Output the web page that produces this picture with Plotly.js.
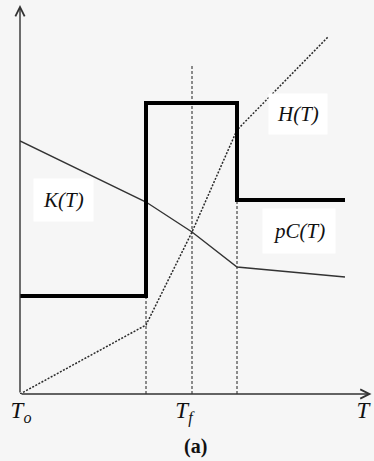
<!DOCTYPE html>
<html>
<head>
<meta charset="utf-8">
<script src="https://cdn.plot.ly/plotly-3.0.1.min.js"></script>
<style>html,body{margin:0;padding:0;background:#f6f6f6;}#chart{width:374px;height:461px;}</style>
</head>
<body>
<div id="chart"></div>
<script>
// Characteristic temperatures (arbitrary units)
var T_o = 0, T_1 = 12.6, T_f = 17.2, T_2 = 21.7, T_end = 32.5, T_max = 35.2;
// pC(T): heat capacity step curve
var pcT = [T_o, T_1, T_1, T_2, T_2, T_end];
var pcV = [9.8, 9.8, 29.1, 29.1, 19.4, 19.4];
// K(T): conductivity
var kT = [T_o, T_1, T_f, T_2, T_end];
var kV = [25.3, 19.2, 16.2, 12.7, 11.7];
// H(T): enthalpy
var hT = [T_o, T_1, T_f, T_2, 30.8];
var hV = [0, 6.9, 16.2, 26.4, 35.7];
// guide lines
var guideT = [T_1, T_f, T_2];
var guideTop = [9.8, 32.9, 19.4];
// tick labels
var tickVals = [0.1, 16.4, 34.3];
var tickText = ['<i>T</i><sub><i>o</i></sub>', '<i>T</i><sub><i>f</i></sub>', '<i>T</i>'];

var SERIF = 'Liberation Serif';

var traces = [];
for (var i = 0; i < guideT.length; i++) {
  traces.push({x: [guideT[i], guideT[i]], y: [0, guideTop[i]], mode: 'lines',
    line: {color: '#444', width: 1.2, dash: '3px,2px'}, hoverinfo: 'skip'});
}
traces.push({x: hT, y: hV, mode: 'lines', line: {color: '#2a2a2a', width: 1.5, dash: '2px,1.5px'}, name: 'H(T)'});
traces.push({x: kT, y: kV, mode: 'lines', line: {color: '#333', width: 1.4}, name: 'K(T)'});
traces.push({x: pcT, y: pcV, mode: 'lines', line: {color: '#000', width: 4}, name: 'pC(T)'});

var serifI = {family: SERIF, size: 21, color: '#111', style: 'italic'};
var layout = {
  width: 374, height: 461,
  margin: {l: 20, r: 2, t: 5, b: 67},
  paper_bgcolor: '#f6f6f6', plot_bgcolor: '#f6f6f6',
  showlegend: false,
  xaxis: {range: [0, T_max], showgrid: false, zeroline: false, showline: false,
    tickvals: tickVals, ticktext: tickText, ticks: '', ticklen: 0,
    tickfont: {family: SERIF, size: 23, color: '#111'}, fixedrange: true},
  yaxis: {range: [0, 38.9], showgrid: false, zeroline: false, showline: false,
    showticklabels: false, ticks: '', fixedrange: true},
  annotations: [
    {x: 0, y: 38.9, ax: 0, ay: 0, axref: 'x', ayref: 'y', xref: 'x', yref: 'y', text: '',
      showarrow: true, arrowhead: 5, arrowsize: 1.3, arrowwidth: 1.4, arrowcolor: '#333'},
    {x: 35.15, y: 0, ax: 0, ay: 0, axref: 'x', ayref: 'y', xref: 'x', yref: 'y', text: '',
      showarrow: true, arrowhead: 5, arrowsize: 1.3, arrowwidth: 1.4, arrowcolor: '#333'},
    {x: 4.3, y: 19.4, xref: 'x', yref: 'y', text: 'K(T)', showarrow: false, font: serifI,
      bgcolor: '#ffffff', borderpad: 9},
    {x: 27.8, y: 28.0, xref: 'x', yref: 'y', text: 'H(T)', showarrow: false, font: serifI,
      bgcolor: '#ffffff', borderpad: 8},
    {x: 27.9, y: 16.3, xref: 'x', yref: 'y', text: 'pC(T)', showarrow: false, font: serifI,
      bgcolor: '#ffffff', borderpad: 10},
    {x: (195 - 20) / 352, y: (461 - 67 - 447) / 389, xref: 'paper', yref: 'paper', yanchor: 'middle',
      text: '<b>(a)</b>', showarrow: false,
      font: {family: SERIF, size: 20, color: '#111'}}
  ]
};

Plotly.newPlot('chart', traces, layout, {displayModeBar: false, staticPlot: true});
</script>
</body>
</html>
